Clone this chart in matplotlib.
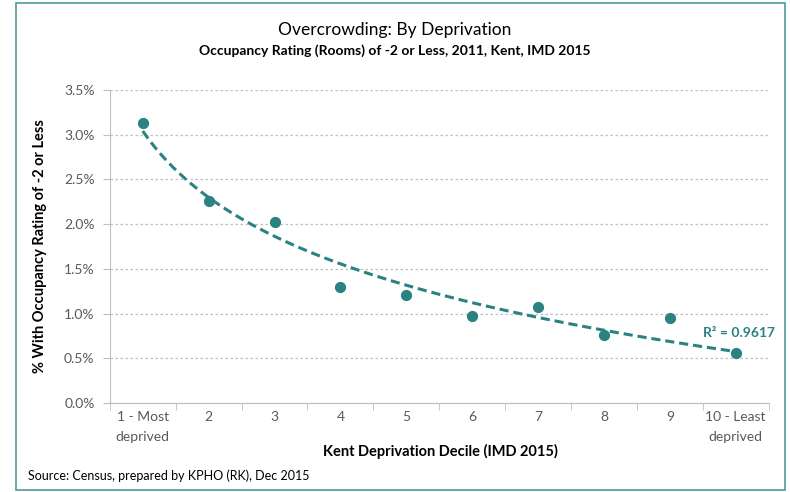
import numpy as np
import matplotlib.pyplot as plt
from matplotlib.patches import Rectangle

# data
deciles = [1, 2, 3, 4, 5, 6, 7, 8, 9, 10]
decile_labels = ["1 - Most\ndeprived", "2", "3", "4", "5", "6", "7", "8", "9", "10 - Least\ndeprived"]
pct_overcrowded = [3.13, 2.26, 2.02, 1.30, 1.21, 0.97, 1.07, 0.76, 0.95, 0.56]

teal = "#2a8282"
plt.rcParams['font.family'] = ['Lato', 'DejaVu Sans']

fig = plt.figure(figsize=(7.9, 4.92), dpi=100)
ax = fig.add_axes([0.139, 0.181, 0.834, 0.636])

# chart border
fig.patches.append(Rectangle((16 / 790, 2 / 492), 769 / 790, 487 / 492, transform=fig.transFigure,
                             fill=False, edgecolor="#4f9b9b", linewidth=1.2))

x = np.array(deciles)
y = np.array(pct_overcrowded)
ax.scatter(x, y, s=50, color=teal, zorder=3)

# logarithmic trendline
b, a = np.polyfit(np.log(x), y, 1)
xs = np.linspace(1, 10, 200)
ax.plot(xs, a + b * np.log(xs), linestyle=(0, (3, 1.6)), color=teal, linewidth=2.2, zorder=2)
ax.text(10.05, 0.78, "R² = 0.9617", color=teal, fontsize=10, fontweight="bold", ha="center", va="center")

ax.set_xlim(0.5, 10.5)
ax.set_ylim(0, 3.5)
ax.set_yticks(np.arange(0, 3.51, 0.5))
ax.set_yticklabels([f"{v:.1f}%" for v in np.arange(0, 3.51, 0.5)], fontsize=10, color="#595959")
ax.set_xticks(deciles)
ax.set_xticklabels(decile_labels, fontsize=10, color="#595959", linespacing=1.75)
ax.set_xticks(np.arange(0.5, 10.6, 1), minor=True)
ax.tick_params(axis="x", which="major", length=0, pad=6)
ax.tick_params(axis="x", which="minor", length=5, color="#bfbfbf")
ax.tick_params(axis="y", length=5, color="#bfbfbf", pad=6)
ax.grid(axis="y", linestyle=(0, (2, 2)), color="#bfbfbf", linewidth=0.9)
ax.set_axisbelow(True)
for s in ["top", "right"]:
    ax.spines[s].set_visible(False)
for s in ["left", "bottom"]:
    ax.spines[s].set_color("#bfbfbf")

ax.set_ylabel("% With Occupancy Rating of -2 or Less", fontsize=10.5, fontweight="bold", labelpad=12)

fig.text(0.557, 0.082, "Kent Deprivation Decile (IMD 2015)", ha="center", va="center",
         fontsize=10.5, fontweight="bold")
fig.text(0.5, 0.939, "Overcrowding: By Deprivation", ha="center", va="center", fontsize=12.5)
fig.text(0.5, 0.898, "Occupancy Rating (Rooms) of -2 or Less, 2011, Kent, IMD 2015",
         ha="center", va="center", fontsize=10, fontweight="bold")
fig.text(28 / 790, 0.033, "Source: Census, prepared by KPHO (RK), Dec 2015", ha="left", va="center", fontsize=9)

fig.savefig("out.png", dpi=100)
